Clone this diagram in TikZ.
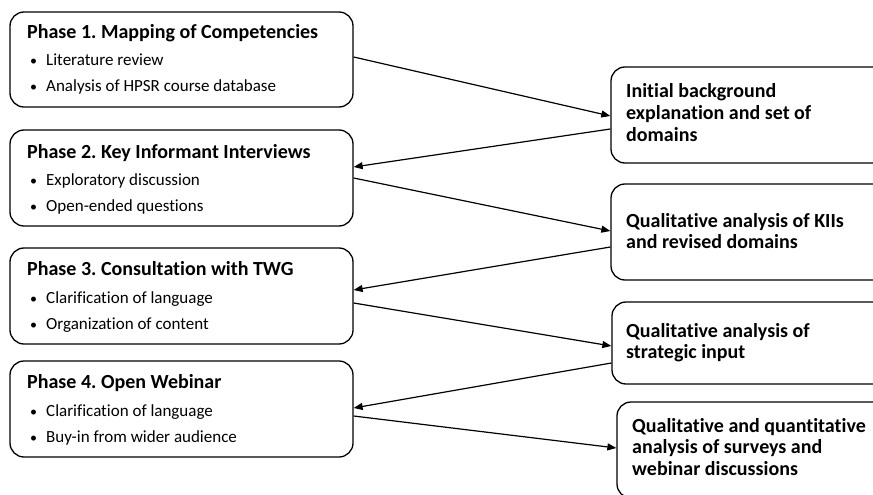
\documentclass[tikz,border=0pt]{standalone}
\usepackage{fontspec}
\setmainfont[Ligatures={NoCommon}]{Carlito}
\usetikzlibrary{arrows.meta}
\frenchspacing
\begin{document}
\begin{tikzpicture}[x=1pt,y=-1pt,
  box/.style={draw=black, line width=1.3pt, rounded corners=14pt, inner sep=0pt},
  conn/.style={line width=1.2pt, -{Triangle[length=9pt,width=7pt]}},
  ttl/.style={anchor=base west, inner sep=0pt, font=\fontsize{20}{24}\selectfont\bfseries},
  bul/.style={anchor=base west, inner sep=0pt, font=\fontsize{17}{20}\selectfont},
  rt/.style={anchor=base west, inner sep=0pt, font=\fontsize{20}{24}\selectfont\bfseries}
]
\useasboundingbox (0,0) rectangle (873,495);
\fill[white] (0,0) rectangle (873,495);
\clip (0,0) rectangle (873,495);

% left boxes
\node[box, minimum width=343pt, minimum height=95pt] (p1) at (181.5,59.5) {};
\node[box, minimum width=343pt, minimum height=96pt] (p2) at (181.5,178) {};
\node[box, minimum width=343pt, minimum height=96pt] (p3) at (181.5,296) {};
\node[box, minimum width=343pt, minimum height=96pt] (p4) at (181.5,409) {};

% right boxes
\node[box, minimum width=294pt, minimum height=96pt] (a) at (758,115) {};
\node[box, minimum width=294pt, minimum height=96pt] (b) at (758,232) {};
\node[box, minimum width=293pt, minimum height=82pt] (c) at (758.5,343) {};
\node[box, minimum width=288pt, minimum height=96pt] (d) at (761,450) {};

% left texts
\node[ttl] (p1t) at (27,39) {Phase 1. Mapping of Competencies};
\node[bul] (p1a) at (30,66) {\makebox[16pt][l]{\fontsize{14}{14}\selectfont•}Literature review};
\node[bul] (p1b) at (30,92) {\makebox[16pt][l]{\fontsize{14}{14}\selectfont•}Analysis of HPSR course database};

\node[ttl] (p2t) at (27,158) {Phase 2. Key Informant Interviews};
\node[bul] (p2a) at (30,185) {\makebox[16pt][l]{\fontsize{14}{14}\selectfont•}Exploratory discussion};
\node[bul] (p2b) at (30,211) {\makebox[16pt][l]{\fontsize{14}{14}\selectfont•}Open-ended questions};

\node[ttl] (p3t) at (27,275) {Phase 3. Consultation with TWG};
\node[bul] (p3a) at (30,303) {\makebox[16pt][l]{\fontsize{14}{14}\selectfont•}Clarification of language};
\node[bul] (p3b) at (30,329) {\makebox[16pt][l]{\fontsize{14}{14}\selectfont•}Organization of content};

\node[ttl] (p4t) at (27,388) {Phase 4. Open Webinar};
\node[bul] (p4a) at (30,416) {\makebox[16pt][l]{\fontsize{14}{14}\selectfont•}Clarification of language};
\node[bul] (p4b) at (30,442) {\makebox[16pt][l]{\fontsize{14}{14}\selectfont•}Buy-in from wider audience};

% right texts
\node[rt] (a1) at (626,97) {Initial background};
\node[rt] (a2) at (626,119) {explanation and set of};
\node[rt] (a3) at (626,141) {domains};

\node[rt] (b1) at (626,227) {Qualitative analysis of KIIs};
\node[rt] (b2) at (626,248) {and revised domains};

\node[rt] (c1) at (626,337) {Qualitative analysis of};
\node[rt] (c2) at (626,358) {strategic input};

\node[rt] (d1) at (632,432) {Qualitative and quantitative};
\node[rt] (d2) at (632,453) {analysis of surveys and};
\node[rt] (d3) at (632,475) {webinar discussions};

% connectors
\draw[conn] (p1.east |- 0,57) -- (a.west |- 0,116);
\draw[conn] (a.west |- 0,129) -- (p2.east |- 0,167);
\draw[conn] (p2.east |- 0,178) -- (b.west |- 0,231);
\draw[conn] (b.west |- 0,247) -- (p3.east |- 0,290);
\draw[conn] (p3.east |- 0,303) -- (c.west |- 0,346);
\draw[conn] (c.west |- 0,363) -- (p4.east |- 0,408);
\draw[conn] (p4.east |- 0,416) -- (d.west |- 0,448);
\end{tikzpicture}
\end{document}
